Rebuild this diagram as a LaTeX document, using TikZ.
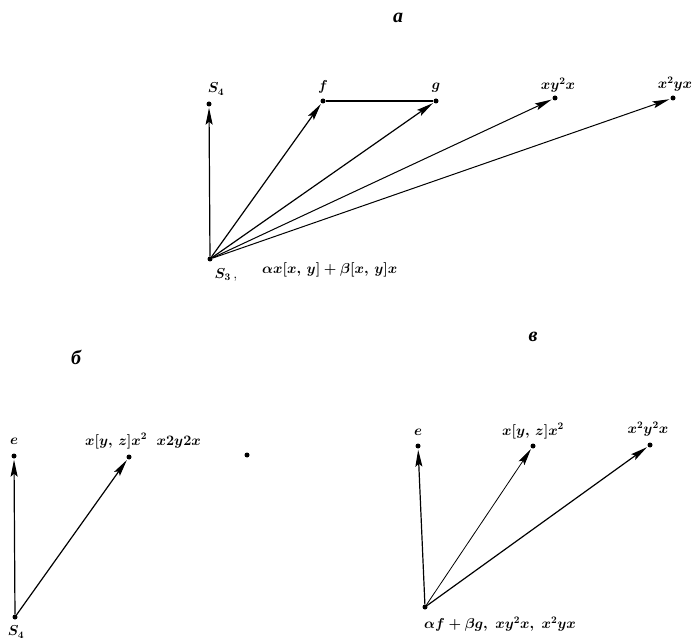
\documentclass[tikz,border=0pt]{standalone}
\usepackage{fontspec}
\newfontfamily\cyr{Liberation Serif}
\usetikzlibrary{arrows.meta}
\begin{document}
\begin{tikzpicture}[x=1pt,y=-1pt,
  dot/.style={circle,fill=black,inner sep=0pt,minimum size=5pt},
  arr/.style={line width=1.2pt,-{Stealth[length=17pt,width=7pt,inset=3pt]},shorten >=1pt},
  plain/.style={line width=1.4pt},
  lbl/.style={inner sep=0pt,font=\fontsize{14.5}{17}\selectfont\boldmath},
  head/.style={inner sep=0pt,font=\cyr\bfseries\itshape\fontsize{20}{24}\selectfont}]
\useasboundingbox (0,0) rectangle (697,639);
% ---- a ----
\node[head] (ha) at (398,18) {а};
\node[dot] (s3) at (210,259) {};
\node[dot] (s4a) at (209,104) {};
\node[dot] (f) at (323,101) {};
\node[dot] (g) at (436,101) {};
\node[dot] (p1) at (555,98) {};
\node[dot] (p2) at (673,98) {};
\node[lbl] (ls3) at (226,275) {$S_3$\,,};
\node[lbl,anchor=west] (lsum) at (262,270) {$\alpha x[x,\,y]+\beta[x,\,y]x$};
\node[lbl] (ls4a) at (216,89) {$S_4$};
\node[lbl] (lf) at (323,87) {$f$};
\node[lbl] (lg) at (436,88) {$g$};
\node[lbl] (lp1) at (558,85) {$xy^2x$};
\node[lbl] (lp2) at (675,84) {$x^2yx$};
\draw[arr] (s3) -- (s4a);
\draw[arr] (s3) -- (f);
\draw[arr] (s3) -- (g);
\draw[arr,line width=1pt] (s3) -- (p1);
\draw[arr,line width=1pt] (s3) -- (p2);
\draw[plain] (f) -- (g);
% ---- b ----
\node[head] (hb) at (76,357) {б};
\node[dot] (s4b) at (15,617) {};
\node[dot] (eb) at (14,456) {};
\node[dot] (qb) at (129,457) {};
\node[dot] (lone) at (247,455) {};
\node[lbl] (ls4b) at (16,632) {$S_4$};
\node[lbl] (leb) at (14,441) {$e$};
\node[lbl,anchor=west] (lqb) at (85,441) {$x[y,\,z]x^2\ \ x2y2x$};
\draw[arr] (s4b) -- (eb);
\draw[arr] (s4b) -- (qb);
% ---- c ----
\node[head] (hc) at (533,337) {в};
\node[dot] (src) at (425,607) {};
\node[dot] (ec) at (418,446) {};
\node[dot] (qc) at (533,446) {};
\node[dot] (rc) at (650,445) {};
\node[lbl,anchor=west] (lsrc) at (424,624) {$\alpha f+\beta g,\ xy^2x,\ x^2yx$};
\node[lbl] (lec) at (418,432) {$e$};
\node[lbl] (lqc) at (533,431) {$x[y,\,z]x^2$};
\node[lbl] (lrc) at (648,429) {$x^2y^2x$};
\draw[arr] (src) -- (ec);
\draw[arr,line width=0.8pt] (src) -- (qc);
\draw[arr] (src) -- (rc);
\end{tikzpicture}
\end{document}
